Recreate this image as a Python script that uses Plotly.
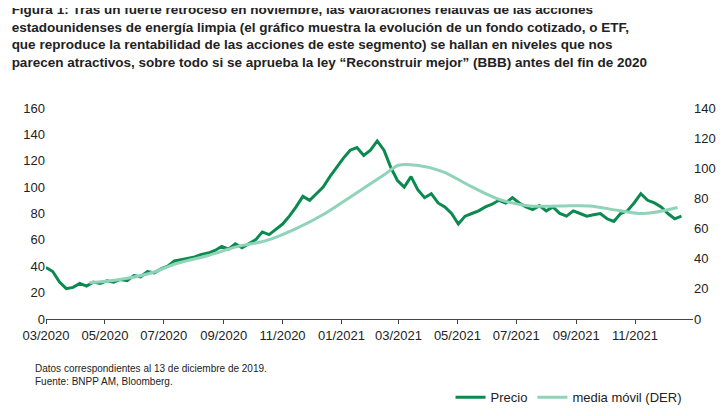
import pandas as pd
import plotly.graph_objects as go

# weekly price (left axis)
price_values = [39, 36, 28, 23, 24,
                27, 25, 28, 27,
                29, 28, 30, 29,
                33, 32, 36, 35,
                38, 40, 44, 45, 46,
                47, 49, 50, 52,
                55, 53, 57, 54,
                57, 60, 66, 64, 68,
                72, 78, 85, 93, 90,
                95, 100, 108, 115,
                122, 128, 130, 124, 128,
                135, 128, 115, 105,
                100, 108, 98, 92,
                95, 88, 85, 80,
                72, 78, 80, 82, 85,
                87, 90, 88, 92,
                88, 85, 83, 86,
                82, 85, 80, 78,
                82, 80, 78, 79, 80,
                76, 74, 80, 82,
                88, 95, 90, 88, 85,
                80, 76, 78]
price_dates = pd.date_range("2020-03-01", periods=len(price_values), freq="7D")

# monthly moving average (right axis units)
ma_dates = pd.to_datetime(["2020-04-15", "2020-05-15", "2020-06-15", "2020-07-15", "2020-08-15",
                           "2020-09-15", "2020-10-15", "2020-11-15", "2020-12-15", "2021-01-15",
                           "2021-02-15", "2021-03-01", "2021-03-20", "2021-04-15", "2021-05-15",
                           "2021-06-15", "2021-07-15", "2021-08-15", "2021-09-15", "2021-10-15",
                           "2021-11-10", "2021-12-15"])
ma_values = [24, 26, 30, 37, 42, 48, 52, 60, 70, 83, 96, 102, 102, 98, 88, 79, 75, 75, 75, 72, 70, 74]

font = "Liberation Sans, Arial"
fig = go.Figure()
fig.add_trace(go.Scatter(x=price_dates, y=price_values, name="Precio", mode="lines",
                         line=dict(color="#0b8a50", width=3)))
fig.add_trace(go.Scatter(x=ma_dates, y=ma_values, name="media móvil (DER)", mode="lines",
                         yaxis="y2", line=dict(color="#8fd3b8", width=3, shape="spline")))

title = ("<b>Figura 1: Tras un fuerte retroceso en noviembre, las valoraciones relativas de las acciones<br>"
         "estadounidenses de energía limpia (el gráfico muestra la evolución de un fondo cotizado, o ETF,<br>"
         "que reproduce la rentabilidad de las acciones de este segmento) se hallan en niveles que nos<br>"
         "parecen atractivos, sobre todo si se aprueba la ley “Reconstruir mejor” (BBB) antes del fin de 2020</b>")
fig.update_layout(
    width=725, height=416, paper_bgcolor="white", plot_bgcolor="white",
    font=dict(family=font, size=13, color="#222"),
    title=dict(text=title, x=0.005, y=0.985, xanchor="left", yanchor="top", font=dict(size=13.5)),
    margin=dict(l=38, r=40, t=100, b=90),
    xaxis=dict(range=["2020-03-01", "2021-12-31"], tickvals=pd.date_range("2020-03-01", "2021-11-01", freq="2MS"),
               tickformat="%m/%Y", showgrid=False, showline=True, linecolor="#444", ticks="outside",
               ticklen=4, tickcolor="#444"),
    yaxis=dict(range=[0, 160], dtick=20, showgrid=False, zeroline=False),
    yaxis2=dict(range=[0, 140], dtick=20, overlaying="y", side="right", showgrid=False, zeroline=False),
    legend=dict(orientation="h", x=0.99, xanchor="right", y=-0.3, yanchor="top", font=dict(size=13)),
)
fig.add_annotation(text="Datos correspondientes al 13 de diciembre de 2019.<br>Fuente: BNPP AM, Bloomberg.",
                   xref="paper", yref="paper", x=-0.02, y=-0.2, xanchor="left", yanchor="top",
                   showarrow=False, align="left", font=dict(size=10))
fig.write_html("out.html")
